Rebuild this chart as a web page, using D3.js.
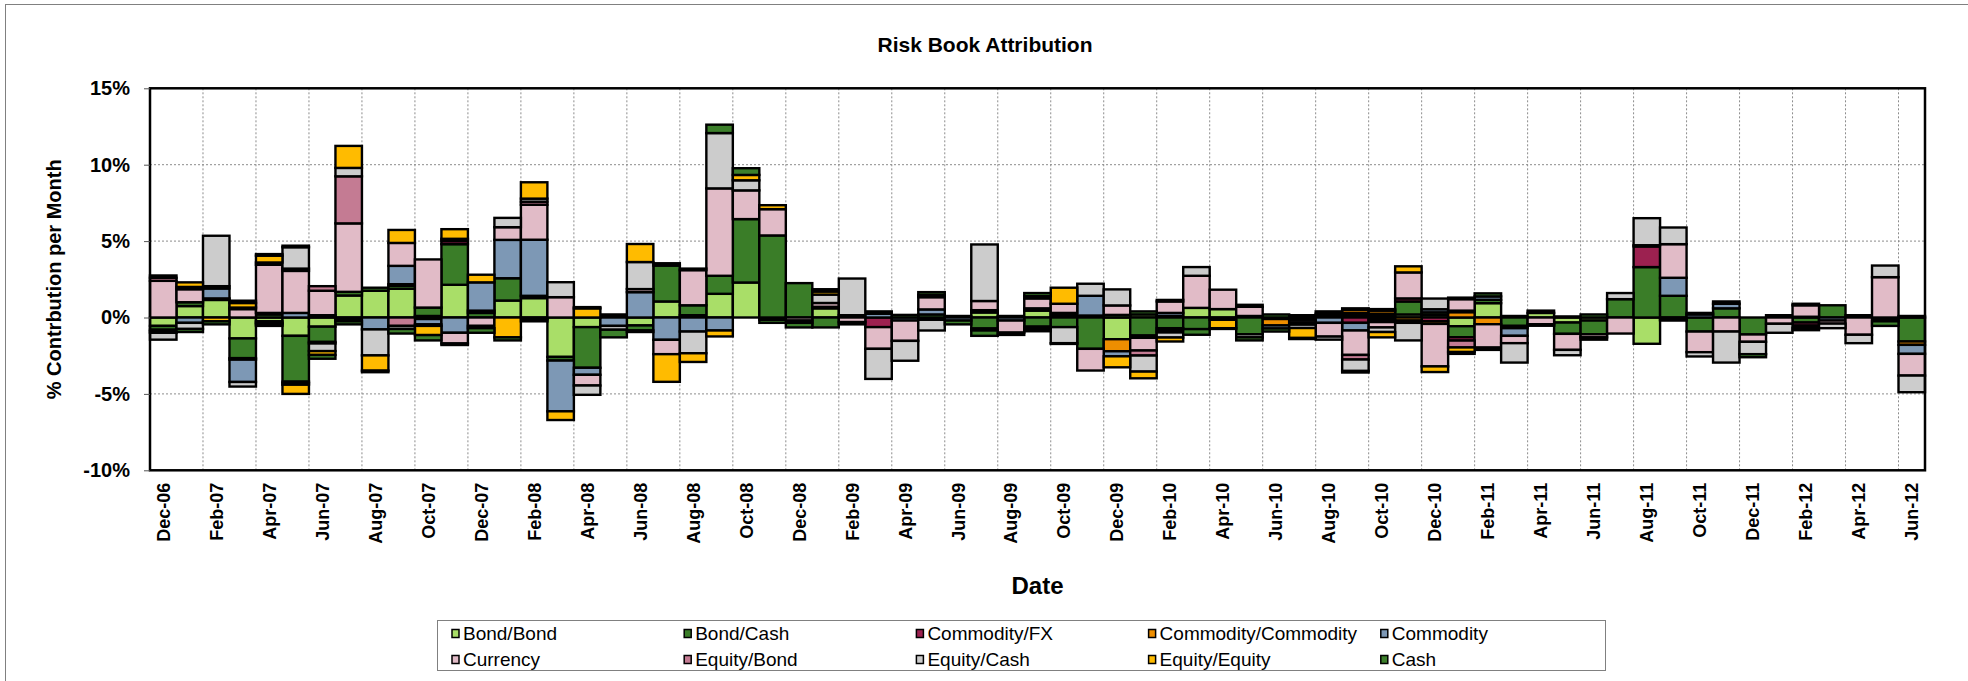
<!DOCTYPE html>
<html>
<head>
<meta charset="utf-8">
<script src="https://cdn.jsdelivr.net/npm/d3@7"></script>
<style>
  html, body { margin: 0; padding: 0; background: #fff; }
  svg { display: block; font-family: "Liberation Sans", Arial, Helvetica, sans-serif; }
</style>
</head>
<body>
<svg id="chart" width="1968" height="681"></svg>
<script>
// Monthly categories (one bar per month)
const months = [
  "Dec-06",
  "Jan-07","Feb-07","Mar-07","Apr-07","May-07","Jun-07","Jul-07","Aug-07","Sep-07","Oct-07","Nov-07","Dec-07",
  "Jan-08","Feb-08","Mar-08","Apr-08","May-08","Jun-08","Jul-08","Aug-08","Sep-08","Oct-08","Nov-08","Dec-08",
  "Jan-09","Feb-09","Mar-09","Apr-09","May-09","Jun-09","Jul-09","Aug-09","Sep-09","Oct-09","Nov-09","Dec-09",
  "Jan-10","Feb-10","Mar-10","Apr-10","May-10","Jun-10","Jul-10","Aug-10","Sep-10","Oct-10","Nov-10","Dec-10",
  "Jan-11","Feb-11","Mar-11","Apr-11","May-11","Jun-11","Jul-11","Aug-11","Sep-11","Oct-11","Nov-11","Dec-11",
  "Jan-12","Feb-12","Mar-12","Apr-12","May-12","Jun-12"
];

// Contribution per month, in percent, one array per risk bucket
const bondBond = [-0.55, 0.75, 1.15, -1.37, -0.25, -1.2, -0.6, 1.44, 1.75, 1.88,
  0.1, 2.14, 0, 1.11, 1.27, -2.58, -0.63, 0.1, -0.52, 1.05,
  0.15, 1.55, 2.29, -0.15, 0, 0.6, 0, 0, 0, -0.15,
  0, 0.33, 0.1, 0.45, 0.15, 0.13, -1.42, 0.2, 0.1, 0.63,
  0.55, 0.1, -0.1, -0.15, 0.1, 0.15, 0.1, 0.2, 0.17, -0.57,
  0.94, 0.1, 0.3, -0.33, -0.2, 0, -1.72, 0, 0, 0,
  0, 0, 0, 0, 0, 0, 0];
const bondCash = [-0.25, 0.25, 0.1, -1.29, 0.2, -3.0, -1.0, 0.24, 0.2, 0.2,
  0.55, 2.66, 0.3, 1.46, 0.15, -0.24, -2.66, 0.1, -0.33, 2.35,
  0.65, 1.18, 4.15, 5.37, 2.25, -0.65, 0, 0, 0, 0.2,
  0.1, -0.72, 0, -0.6, -0.63, -2.05, 0.17, -1.18, -0.7, -0.76,
  -0.15, -1.1, 0.2, 0.15, 0.15, 0.15, 0.15, 0.85, 0.17, -0.72,
  0.22, -0.55, 0, -0.74, -0.9, 1.2, 3.3, 1.42, -0.92, 0.6,
  -1.11, 0.15, -0.33, 0.8, 0, -0.1, -1.57];
const commodityFx = [-0.1, 0, 0, -0.1, -0.1, -0.1, 0, -0.1, 0, 0,
  -0.1, 0.2, 0, 0, -0.1, 0, 0, 0, 0, 0,
  0, 0, 0, 0, 0, 0, 0, -0.63, 0, 0,
  0, 0, 0, 0, 0, 0, 0, 0, -0.15, 0,
  0, 0, 0, 0, 0, -0.35, -0.15, 0.2, -0.25, -0.22,
  0, -0.15, 0, 0, 0, 0, 1.35, -0.15, 0, 0,
  0, 0, -0.2, 0, 0, 0, 0];
const commodityCommodity = [0, 0, 0, 0, -0.1, -0.1, -0.1, 0, 0, 0.1,
  0, 0, 0.15, 0, 0, 0, 0, 0, 0, 0,
  0, 0, 0, 0, 0, 0, 0, 0, 0, 0,
  0, 0.15, 0, 0, 0, 0, -0.79, 0, 0, 0,
  0, 0, -0.42, 0, 0, 0.2, 0.2, -0.2, -0.17, 0.35,
  -0.44, 0, 0, 0, 0, 0, 0, 0, 0, 0,
  0, 0, 0, 0, 0, 0, -0.22];
const commodity = [-0.1, -0.35, 0.65, -1.46, 0.1, 0.3, 0.15, -0.15, -0.78, 1.2,
  -0.35, -1.0, 1.85, 2.51, 3.67, -3.32, -0.46, -0.55, 1.66, -1.46,
  -0.92, -0.85, 0, 0, 0, 0.1, 0.15, 0.25, -0.2, 0.33,
  -0.2, -0.13, -0.2, 0.15, 0.15, 1.29, -0.33, -0.15, 0.2, 0,
  0, 0, -0.2, 0, -0.35, -0.5, -0.15, -0.15, 0.2, 0.1,
  0.22, -0.5, 0, 0, 0, 0, 0, 1.18, 0.2, 0.3,
  0, 0, 0.05, -0.2, 0.15, -0.15, -0.59];
const currency = [2.4, 0.85, 0.15, 0.55, 3.15, 2.75, 1.6, 4.48, 0, 1.5,
  3.15, -0.7, -0.55, 0.83, 2.29, 1.33, -0.7, 0, 0.2, -0.94,
  2.3, 5.72, 1.88, 1.72, -0.2, 0.25, -0.3, -1.42, -1.33, 0.8,
  0, 0.6, -0.79, 0.65, 0.6, -1.42, 0.62, -0.83, 0.75, 2.1,
  1.27, 0.6, 0, -0.17, -0.9, -1.6, -0.35, 1.7, -2.78, 0.75,
  -1.53, -0.48, -0.44, -1.05, -0.2, -1.05, 0.08, 2.2, -1.35, -0.92,
  -0.48, -0.41, 0.75, -0.2, -1.13, 2.64, -1.42];
const equityBond = [0.2, 0.15, 0, 0.1, -0.1, 0.15, 0.3, 3.08, 0, -0.55,
  0, 0, 0, 0, 0.2, 0, 0, 0, 0, 0,
  0, 0, 0, 0, 0, 0, 0, 0.15, 0, 0.15,
  0, 0, 0, -0.15, 0, 0, 0, -0.33, -0.13, 0,
  0, 0.13, 0, -0.15, 0, -0.3, 0, 0, 0, -0.45,
  0, 0, 0, 0, 0, 0, 0, 0, 0.1, 0,
  0, 0, -0.15, 0, 0, 0, 0];
const equityCash = [-0.45, -0.4, 3.3, -0.3, 0.15, 1.4, -0.5, 0.55, -1.7, -0.2,
  -0.1, 0.15, -0.15, 0.61, 0.2, 0.98, -0.61, -0.25, 1.77, 0,
  -1.42, 3.62, 0.66, 0, -0.15, 0.55, 2.4, -1.97, -1.3, -0.7,
  0, 3.7, 0, 0.15, -1.05, 0.79, 1.05, -1.05, -0.33, 0.57,
  0, -0.2, 0, -0.22, -0.2, -0.75, -0.3, -1.15, 0.7, 0.1,
  -0.15, -1.27, -0.1, -0.35, -0.15, 0.4, 1.77, 1.09, -0.28, -2.03,
  -0.81, -0.59, -0.15, -0.3, -0.55, 0.76, -1.09];
const equityEquity = [0, 0.3, -0.25, 0.3, 0.45, -0.6, -0.25, 1.44, -1.0, 0.85,
  -0.6, 0.63, 0.5, -1.3, 1.07, -0.57, 0.6, 0, 1.18, -1.81,
  -0.57, -0.39, 0.35, 0.26, 0, 0.2, 0, 0, 0, 0,
  0, 0, 0, -0.15, 1.05, 0, -0.72, -0.44, -0.26, 0,
  -0.55, 0, 0, -0.65, 0, -0.1, -0.35, 0.4, -0.37, -0.3,
  0, 0, 0, 0, 0, 0, 0, 0, 0, 0,
  0, 0, 0, 0, 0, 0, 0];
const cash = [0.15, -0.2, -0.2, 0.15, 0.1, 0.1, -0.25, -0.2, -0.1, -0.3,
  -0.35, -0.1, -0.3, -0.2, -0.15, 0, 0.08, -0.5, -0.1, 0.15,
  0.1, 0.55, 0.44, -0.2, -0.3, 0.15, -0.15, 0, 0.17, 0.18,
  -0.25, -0.35, -0.15, 0.2, -0.05, 0, 0, 0.2, 0.1, -0.37,
  -0.05, -0.2, -0.2, -0.07, 0.15, 0.1, 0.1, 0, 0, -0.12,
  0.2, 0, 0.15, 0.07, 0.2, 0, 0, -0.05, 0, 0.15,
  -0.2, 0, 0.1, 0, 0, -0.3, 0.1];

// Series names in stacking order, with their values and fills
const seriesNames = ["Bond/Bond","Bond/Cash","Commodity/FX","Commodity/Commodity","Commodity",
                     "Currency","Equity/Bond","Equity/Cash","Equity/Equity","Cash"];
const seriesValues = [bondBond, bondCash, commodityFx, commodityCommodity, commodity,
                      currency, equityBond, equityCash, equityEquity, cash];
const seriesColors = ["#A9DE68","#3A7D28","#9C2150","#EE8E00","#7D98B5",
                      "#E1BBC7","#C47B93","#CCCCCC","#FFBB00","#3C7F2B"];

const yTicks = [-10, -5, 0, 5, 10, 15];

const svg = d3.select("#chart");
const plot = { left: 150, right: 1925, top: 88.3, bottom: 470.3 };

// outer chart-area frame
svg.append("rect")
  .attr("x", 5.5).attr("y", 4.5).attr("width", 2000).attr("height", 720)
  .attr("fill", "none").attr("stroke", "#808080").attr("stroke-width", 1);

const x = d3.scaleBand().domain(months).range([plot.left, plot.right]).padding(0);
const y = d3.scaleLinear().domain([-10, 15]).range([plot.bottom, plot.top]);

// table for the stack layout
const rows = months.map((m, i) => {
  const r = { month: m };
  seriesNames.forEach((s, j) => { r[s] = seriesValues[j][i]; });
  return r;
});
const stacked = d3.stack().keys(seriesNames).offset(d3.stackOffsetDiverging)(rows);

// grid
const grid = svg.append("g");
grid.selectAll("line.h").data(yTicks.filter(t => t > -10 && t < 15)).join("line")
  .attr("x1", plot.left).attr("x2", plot.right)
  .attr("y1", d => y(d)).attr("y2", d => y(d))
  .attr("stroke", "#8c8c8c").attr("stroke-width", 1).attr("stroke-dasharray", "2,2");
grid.selectAll("line.v").data(months.filter((m, i) => i > 0 && i % 2 === 0)).join("line")
  .attr("x1", d => x(d)).attr("x2", d => x(d))
  .attr("y1", plot.top).attr("y2", plot.bottom)
  .attr("stroke", "#8c8c8c").attr("stroke-width", 1).attr("stroke-dasharray", "2,2");

// stacked bars
const layers = svg.append("g").selectAll("g").data(stacked).join("g")
  .attr("fill", (d, i) => seriesColors[i]);
layers.selectAll("rect")
  .data(d => d.filter(p => p[1] - p[0] !== 0))
  .join("rect")
  .attr("x", p => x(p.data.month))
  .attr("width", x.bandwidth())
  .attr("y", p => y(Math.max(p[0], p[1])))
  .attr("height", p => Math.abs(y(p[0]) - y(p[1])))
  .attr("stroke", "#000").attr("stroke-width", 2.4);

// plot frame
svg.append("rect")
  .attr("x", plot.left).attr("y", plot.top)
  .attr("width", plot.right - plot.left).attr("height", plot.bottom - plot.top)
  .attr("fill", "none").attr("stroke", "#000").attr("stroke-width", 2.5);

// y axis
const yAxis = svg.append("g").attr("transform", `translate(${plot.left},0)`)
  .call(d3.axisLeft(y).tickValues(yTicks).tickFormat(d => d + "%").tickSize(6).tickPadding(14));
yAxis.select(".domain").remove();
yAxis.selectAll("line").attr("stroke", "#555");
yAxis.selectAll("text").attr("font-size", 20).attr("font-weight", "bold").attr("fill", "#000")
  .attr("font-family", "Liberation Sans, Arial, sans-serif");

// x axis labels, every other month
const xAxis = svg.append("g").attr("transform", `translate(0,${plot.bottom})`)
  .call(d3.axisBottom(x).tickValues(months.filter((m, i) => i % 2 === 0)).tickSize(0));
xAxis.select(".domain").remove();
xAxis.selectAll("text")
  .attr("transform", "rotate(-90)")
  .attr("x", -12.5).attr("y", 0).attr("dy", "0.36em")
  .style("text-anchor", "end")
  .attr("font-size", 18).attr("font-weight", "bold").attr("fill", "#000")
  .attr("font-family", "Liberation Sans, Arial, sans-serif");

// titles
svg.append("text").attr("x", 985).attr("y", 52).attr("text-anchor", "middle")
  .attr("font-size", 21).attr("font-weight", "bold").text("Risk Book Attribution");
svg.append("text").attr("transform", `translate(61,${(plot.top + plot.bottom) / 2}) rotate(-90)`)
  .attr("text-anchor", "middle")
  .attr("font-size", 20).attr("font-weight", "bold").text("% Contrbution per Month");
svg.append("text").attr("x", (plot.left + plot.right) / 2).attr("y", 594).attr("text-anchor", "middle")
  .attr("font-size", 24).attr("font-weight", "bold").text("Date");

// legend
const legend = svg.append("g");
legend.append("rect").attr("x", 437.5).attr("y", 620.5).attr("width", 1168).attr("height", 50)
  .attr("fill", "#fff").attr("stroke", "#808080").attr("stroke-width", 1);
const colStep = 232.2, rowY = [633.5, 659.5];
const items = legend.selectAll("g.item").data(seriesNames).join("g")
  .attr("transform", (d, i) => `translate(${452 + (i % 5) * colStep},${rowY[Math.floor(i / 5)]})`);
items.append("rect").attr("x", 0).attr("y", -4).attr("width", 7).attr("height", 8)
  .attr("fill", (d, i) => seriesColors[i]).attr("stroke", "#000").attr("stroke-width", 1.5);
items.append("text").attr("x", 11).attr("y", 0).attr("dy", "0.36em")
  .attr("font-size", 19).text(d => d);
</script>
</body>
</html>
